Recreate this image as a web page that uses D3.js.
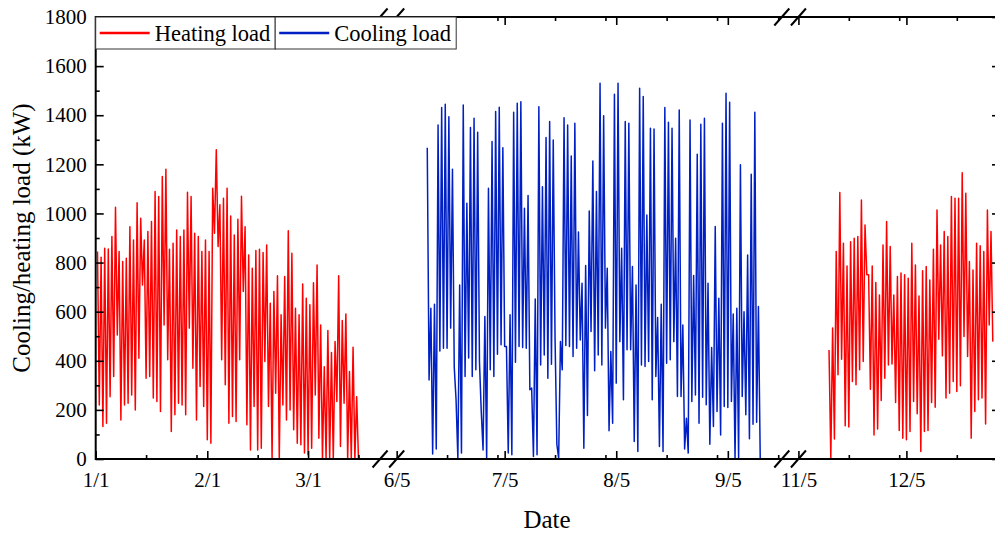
<!DOCTYPE html>
<html><head><meta charset="utf-8">
<script src="https://cdn.jsdelivr.net/npm/d3@7"></script>
<style>
body{margin:0;background:#fff}
svg{display:block}
text{font-family:"Liberation Serif","Times New Roman",serif;fill:#000}
</style>
</head><body>
<svg id="chart" width="995" height="533"></svg>
<script>
// ---------------- data ----------------
// two readings per day (daily high, daily low), starting at the given date
const heatingStart1 = "2019-01-01";
const heating1 = [
845,220, 822,132, 858,146, 855,254, 906,336, 1025,505, 845,159, 804,220, 818,227, 946,261,
892,200, 1044,410, 980,709, 892,329, 926,336, 967,248, 1089,234, 1069,193, 1150,546, 1180,404,
854,112, 879,180, 933,227, 906,220, 933,180, 1086,533, 1069,370, 919,159, 906,295, 845,214,
892,78, 845,64, 1103,919, 1259,865, 1035,404, 1062,302, 1103,146, 990,173, 912,153, 976,404,
1070,682, 946,139, 831,37, 777,214, 849,37, 854,44, 841,397, 872,214, 634,0, 682,268,
746,0, 587,220, 743,159, 930,200, 838,119, 614,64, 587,58, 713,24, 655,17, 628,44,
718,261, 790,85, 546,0, 376,0, 523,0, 434,0, 478,234, 746,51, 564,227, 591,0,
356,0, 455,0, 254,0
];
const coolingStart = "2019-06-13";
const cooling = [
1268,322, 614,20, 630,41, 1360,440, 1431,451, 1445,451, 1394,533, 1180,373, 241,3, 709,24,
1442,336, 1042,411, 1350,336, 1388,363, 1331,397, 193,37, 580,0, 1103,363, 1293,336, 1415,427,
1432,465, 1268,458, 458,24, 587,17, 1412,394, 1449,458, 1455,454, 1021,451, 1073,282, 289,10,
652,17,
1435,383, 1109,424, 1309,329, 1374,386, 1299,492, 60,3, 478,363, 1390,462, 1360,458, 1234,417,
1367,451, 924,485, 716,44, 788,177, 1010,519, 1214,359, 1089,424, 1530,383, 1398,533, 777,115,
438,146, 1485,309, 1530,478, 858,241, 1374,445, 1367,445, 784,71, 709,31, 1510,383, 1476,377,
994,397, 1347,241,
1344,336, 576,51, 630,31, 1431,390, 1371,404, 1347,478, 899,255, 1421,255, 546,41, 166,24,
1381,234, 747,261, 1241,146, 1363,251, 1388,221, 716,60, 454,132, 947,193, 655,98, 1367,214,
1489,210, 1453,234, 590,0, 614,0, 1198,255, 600,180, 831,82, 1160,142, 1412,150, 621,0
];
const heatingStart2 = "2019-11-13";
const heating2 = [
444,3, 533,81, 845,343, 1085,406, 879,135, 786,130, 885,316, 899,302, 906,363, 1055,397,
953,750, 750,284, 786,98, 719,122, 668,238, 872,329, 967,383, 865,387, 668,230, 743,116,
757,85, 750,78, 736,112, 879,234, 790,184, 664,31, 767,112, 784,116, 729,230, 854,211,
1014,488, 872,420, 926,248, 906,268, 1069,316, 1062,275, 1062,298, 1166,499, 1082,417, 804,85,
770,193, 879,241, 868,248, 845,143, 1014,546, 926,478
];

// broken x axis: shown date ranges
const axisSegments = [["2019-01-01","2019-03-21"],["2019-06-05","2019-09-20"],["2019-11-05","2019-12-31"]];
const xMajorTicks  = ["2019-01-01","2019-02-01","2019-03-01","2019-06-05","2019-07-05","2019-08-05","2019-09-05","2019-11-05","2019-12-05"];
const xMajorLabels = ["1/1","2/1","3/1","6/5","7/5","8/5","9/5","11/5","12/5"];
const xMinorTicks  = ["2019-01-15","2019-01-29","2019-02-15","2019-03-15","2019-06-19","2019-07-03","2019-07-19","2019-08-02",
                      "2019-08-19","2019-09-02","2019-09-19","2019-11-19","2019-12-03","2019-12-19"];
const yMajorTicks = [0,200,400,600,800,1000,1200,1400,1600,1800];
const yMinorTicks = [100,300,500,700,900,1100,1300,1500,1700];
const seriesNames = ["Heating load","Cooling load"];
const seriesColors = ["#ff0000","#0020c4"];

// ---------------- layout ----------------
const L = 95.7, R = 1000, T = 17, B = 459, GAP = 16.6;
const parse = d3.timeParse("%Y-%m-%d");
const doy = s => { const d = parse(s); return d3.timeDay.count(d3.timeYear(d), d); };

const segDays = axisSegments.map(s => [doy(s[0]), doy(s[1])]);
const totalDays = d3.sum(segDays, s => s[1]-s[0]);
const k = (R - L - GAP*(segDays.length-1)) / totalDays;
const xDomain = [], xRange = [];
let cur = L;
segDays.forEach((s,i) => {
  xDomain.push(s[0], s[1]);
  xRange.push(cur, cur + (s[1]-s[0])*k);
  cur += (s[1]-s[0])*k + GAP;
});
const x = d3.scaleLinear().domain(xDomain).range(xRange);
const y = d3.scaleLinear().domain([0,1800]).range([B,T]);

const svg = d3.select("#chart");
svg.append("defs").append("clipPath").attr("id","clip")
  .append("rect").attr("x",L).attr("y",T-1).attr("width",R-L).attr("height",B-T+1);

function toPoints(start, vals){
  const d0 = doy(start);
  return vals.map((v,j) => [d0 + 0.5 + 0.5*j, v]);
}
const line = d3.line().x(d => x(d[0])).y(d => y(d[1]));
const series = [
  {pts: toPoints(heatingStart1, heating1), c: seriesColors[0]},
  {pts: toPoints(coolingStart, cooling),   c: seriesColors[1]},
  {pts: toPoints(heatingStart2, heating2), c: seriesColors[0]}
];
const gData = svg.append("g").attr("clip-path","url(#clip)");
series.forEach(s => {
  gData.append("path").attr("d", line(s.pts)).attr("fill","none")
    .attr("stroke", s.c).attr("stroke-width",1.5).attr("stroke-linejoin","round");
});

// ---------------- axes ----------------
const FS = 21;
const gx = svg.append("g").attr("transform",`translate(0,${B})`)
  .call(d3.axisBottom(x).tickValues(xMajorTicks.map(doy)).tickSize(-8).tickPadding(13)
        .tickFormat((d,i) => xMajorLabels[i]));
gx.select(".domain").remove();
gx.selectAll("text").attr("font-size",FS).attr("font-family","Liberation Serif");
svg.append("g").attr("transform",`translate(0,${B})`)
  .call(d3.axisBottom(x).tickValues(xMinorTicks.map(doy)).tickSize(-4).tickFormat(""))
  .select(".domain").remove();
const gxt = svg.append("g").attr("transform",`translate(0,${T})`)
  .call(d3.axisTop(x).tickValues(xMajorTicks.map(doy)).tickSize(-8).tickFormat(""));
gxt.select(".domain").remove();
svg.append("g").attr("transform",`translate(0,${T})`)
  .call(d3.axisTop(x).tickValues(xMinorTicks.map(doy)).tickSize(-4).tickFormat(""))
  .select(".domain").remove();

const gy = svg.append("g").attr("transform",`translate(${L},0)`)
  .call(d3.axisLeft(y).tickValues(yMajorTicks).tickSize(-8).tickPadding(9).tickFormat(d3.format("d")));
gy.select(".domain").remove();
gy.selectAll("text").attr("font-size",FS).attr("font-family","Liberation Serif");
svg.append("g").attr("transform",`translate(${L},0)`)
  .call(d3.axisLeft(y).tickValues(yMinorTicks).tickSize(-4).tickFormat(""))
  .select(".domain").remove();
svg.append("g").attr("transform",`translate(${R},0)`)
  .call(d3.axisRight(y).tickValues(yMajorTicks).tickSize(-8).tickFormat(""))
  .select(".domain").remove();
svg.append("g").attr("transform",`translate(${R},0)`)
  .call(d3.axisRight(y).tickValues(yMinorTicks).tickSize(-4).tickFormat(""))
  .select(".domain").remove();
svg.selectAll(".tick line").attr("stroke","#000").attr("stroke-width",1.6);

// frame
svg.append("rect").attr("x",L).attr("y",T).attr("width",R-L).attr("height",B-T)
  .attr("fill","none").attr("stroke","#000").attr("stroke-width",2);

// break marks
const breaks = [];
for (let i=0;i<segDays.length-1;i++){ breaks.push(x(segDays[i][1])); breaks.push(x(segDays[i+1][0])); }
[T,B].forEach(yy => {
  breaks.forEach(bx => {
    svg.append("line").attr("x1",bx-7.5).attr("y1",yy+8.5).attr("x2",bx+7.5).attr("y2",yy-8.5)
      .attr("stroke","#000").attr("stroke-width",2);
  });
});

// ---------------- legend ----------------
const legW = [179.5, 181], legH = 32;
let lx = L;
seriesNames.forEach((n,i) => {
  const g = svg.append("g").attr("transform",`translate(${lx},${T})`);
  g.append("rect").attr("width",legW[i]).attr("height",legH).attr("fill","#fff")
    .attr("stroke","#333").attr("stroke-width",1);
  g.append("line").attr("x1",4).attr("x2",54).attr("y1",16).attr("y2",16)
    .attr("stroke",seriesColors[i]).attr("stroke-width",2.5);
  g.append("text").attr("x",59).attr("y",24).attr("font-size",22.5).text(n);
  lx += legW[i];
});

// ---------------- titles ----------------
svg.append("text").attr("x",547).attr("y",528).attr("text-anchor","middle")
  .attr("font-size",25).text("Date");
svg.append("text").attr("transform",`translate(30,${(T+B)/2}) rotate(-90)`)
  .attr("text-anchor","middle").attr("font-size",25).text("Cooling/heating load (kW)");
</script>
</body></html>
